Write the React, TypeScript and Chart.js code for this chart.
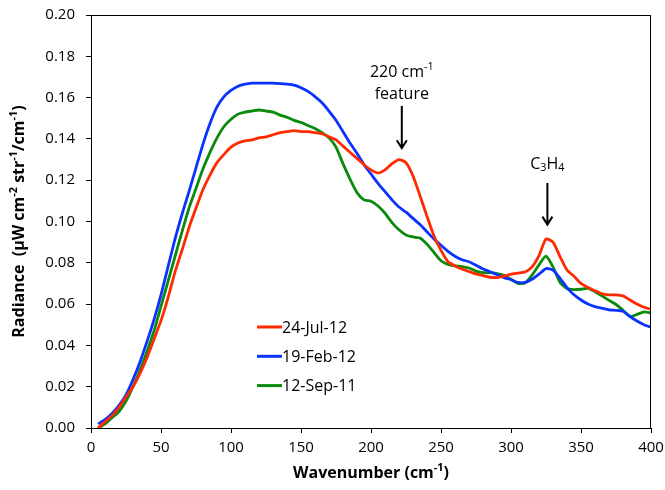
import React, { useEffect, useRef } from "react";
import { Chart, registerables } from "chart.js";

Chart.register(...registerables);

const wavenumbers = [
  5, 10, 15, 20, 25, 30, 35, 40, 45, 50, 55, 60, 65, 70, 75, 80, 85, 90, 95, 100,
  105, 110, 115, 120, 125, 130, 135, 140, 145, 150, 155, 160, 165, 170, 175, 180, 185, 190, 195, 200,
  205, 210, 215, 220, 225, 230, 235, 240, 245, 250, 255, 260, 265, 270, 275, 280, 285, 290, 295, 300,
  305, 310, 315, 320, 325, 330, 335, 340, 345, 350, 355, 360, 365, 370, 375, 380, 385, 390, 395, 400,
];

const jul12 = [
  0.0, 0.003, 0.006, 0.01, 0.015, 0.02, 0.0265, 0.034, 0.043, 0.052, 0.063, 0.0755, 0.086, 0.097, 0.1065, 0.1155, 0.1225, 0.1285, 0.1325, 0.136,
  0.138, 0.139, 0.1395, 0.1405, 0.141, 0.142, 0.143, 0.1435, 0.144, 0.1435, 0.1435, 0.143, 0.1425, 0.141, 0.1395, 0.1365, 0.1335, 0.1305, 0.1275, 0.125,
  0.1235, 0.125, 0.128, 0.13, 0.1285, 0.122, 0.1125, 0.1025, 0.093, 0.086, 0.0805, 0.0785, 0.077, 0.0758, 0.0746, 0.0738, 0.073, 0.0728, 0.0735, 0.0745,
  0.075, 0.0755, 0.078, 0.0835, 0.0915, 0.09, 0.083, 0.0765, 0.0735, 0.07, 0.068, 0.0665, 0.065, 0.0645, 0.0645, 0.064, 0.062, 0.06, 0.0585, 0.0575,
];

const feb12 = [
  0.002, 0.004, 0.007, 0.011, 0.016, 0.0235, 0.032, 0.0418, 0.0525, 0.0645, 0.078, 0.0915, 0.1035, 0.1145, 0.126, 0.1375, 0.1475, 0.1555, 0.1605, 0.1635,
  0.1655, 0.1665, 0.167, 0.167, 0.167, 0.167, 0.1668, 0.1665, 0.166, 0.1648, 0.163, 0.1605, 0.1575, 0.1535, 0.149, 0.1435, 0.138, 0.133, 0.1275, 0.123,
  0.1185, 0.1145, 0.1105, 0.107, 0.1045, 0.1015, 0.0985, 0.095, 0.0915, 0.0885, 0.0855, 0.0832, 0.0815, 0.0805, 0.0788, 0.077, 0.0757, 0.0742, 0.0728, 0.0718,
  0.0705, 0.0705, 0.072, 0.0745, 0.0772, 0.0765, 0.0725, 0.068, 0.0645, 0.062, 0.06, 0.0588, 0.058, 0.0572, 0.057, 0.0565, 0.054, 0.0518, 0.05, 0.0488,
];

const sep11 = [
  0.0, 0.002, 0.005, 0.008, 0.013, 0.02, 0.028, 0.037, 0.047, 0.059, 0.071, 0.083, 0.095, 0.1065, 0.116, 0.1255, 0.1335, 0.1405, 0.146, 0.1495,
  0.152, 0.153, 0.1535, 0.154, 0.1535, 0.153, 0.1515, 0.1505, 0.149, 0.148, 0.1465, 0.145, 0.143, 0.1405, 0.136, 0.128, 0.1205, 0.114, 0.1105, 0.1098,
  0.1075, 0.104, 0.0995, 0.096, 0.0935, 0.0925, 0.092, 0.089, 0.085, 0.081, 0.0792, 0.0785, 0.0782, 0.0775, 0.076, 0.0752, 0.0752, 0.0748, 0.074, 0.072,
  0.07, 0.0702, 0.074, 0.079, 0.0832, 0.078, 0.0705, 0.0675, 0.067, 0.0672, 0.0676, 0.066, 0.064, 0.0618, 0.0598, 0.057, 0.054, 0.055, 0.0562, 0.0558,
];

const seriesLabels = ["24-Jul-12", "19-Feb-12", "12-Sep-11"];
const seriesColors = ["#FF2A00", "#0A32FF", "#0A8A0A"];

const FONT = "'Open Sans', sans-serif";

type Seg = { t: string; sup?: boolean; sub?: boolean };

function measureRich(ctx: CanvasRenderingContext2D, segs: Seg[], size: number, weight: string) {
  let w = 0;
  for (const s of segs) {
    const sz = s.sup || s.sub ? size * 0.68 : size;
    ctx.font = `${weight} ${sz}px ${FONT}`;
    w += ctx.measureText(s.t).width;
  }
  return w;
}

function drawRich(ctx: CanvasRenderingContext2D, segs: Seg[], cx: number, cy: number, size: number, weight: string) {
  const w = measureRich(ctx, segs, size, weight);
  let x = cx - w / 2;
  ctx.textBaseline = "middle";
  ctx.textAlign = "left";
  for (const s of segs) {
    const sz = s.sup || s.sub ? size * 0.68 : size;
    ctx.font = `${weight} ${sz}px ${FONT}`;
    let dy = 0;
    if (s.sup) dy = -size * 0.33;
    if (s.sub) dy = size * 0.22;
    ctx.fillText(s.t, x, cy + dy);
    x += ctx.measureText(s.t).width;
  }
}

function arrow(ctx: CanvasRenderingContext2D, x: number, y1: number, y2: number) {
  ctx.beginPath();
  ctx.moveTo(x, y1);
  ctx.lineTo(x, y2);
  ctx.moveTo(x - 5, y2 - 8);
  ctx.lineTo(x, y2);
  ctx.lineTo(x + 5, y2 - 8);
  ctx.stroke();
}

const decor = {
  id: "decor",
  afterDraw(chart: any) {
    const { ctx, chartArea: a, scales } = chart;
    const xs = scales.x;
    const ys = scales.y;
    ctx.save();
    ctx.strokeStyle = "#000";
    ctx.lineWidth = 1;
    ctx.strokeRect(Math.round(a.left) + 0.5, Math.round(a.top) + 0.5, Math.round(a.right - a.left) - 1, Math.round(a.bottom - a.top));

    ctx.fillStyle = "#000";
    drawRich(ctx, [{ t: "Wavenumber (cm" }, { t: "-1", sup: true }, { t: ")" }], (a.left + a.right) / 2, 473, 16, "bold");
    ctx.save();
    ctx.translate(19, (a.top + a.bottom) / 2);
    ctx.rotate(-Math.PI / 2);
    drawRich(
      ctx,
      [{ t: "Radiance  (µW cm" }, { t: "-2", sup: true }, { t: " str" }, { t: "-1", sup: true }, { t: "/cm" }, { t: "-1", sup: true }, { t: ")" }],
      0,
      0,
      16,
      "bold"
    );
    ctx.restore();

    const ax1 = xs.getPixelForValue(222);
    drawRich(ctx, [{ t: "220 cm" }, { t: "-1", sup: true }], ax1, 72, 16, "normal");
    drawRich(ctx, [{ t: "feature" }], ax1, 94, 16, "normal");
    ctx.lineWidth = 2;
    arrow(ctx, ax1, 106, ys.getPixelForValue(0.1355));
    const ax2 = xs.getPixelForValue(326);
    drawRich(ctx, [{ t: "C" }, { t: "3", sub: true }, { t: "H" }, { t: "4", sub: true }], ax2, 164, 16, "normal");
    arrow(ctx, ax2, 183, ys.getPixelForValue(0.0985));

    chart.data.datasets.forEach((ds: any, i: number) => {
      const y = a.top + 312 + i * 29.3;
      const x0 = a.left + 166;
      ctx.strokeStyle = ds.borderColor;
      ctx.lineWidth = 3;
      ctx.beginPath();
      ctx.moveTo(x0, y);
      ctx.lineTo(x0 + 25, y);
      ctx.stroke();
      ctx.fillStyle = "#000";
      ctx.font = `16px ${FONT}`;
      ctx.textAlign = "left";
      ctx.textBaseline = "middle";
      ctx.fillText(ds.label, x0 + 25, y + 1);
    });
    ctx.restore();
  },
};

export default function App() {
  const ref = useRef<HTMLCanvasElement | null>(null);
  useEffect(() => {
    document.body.style.margin = "0";
    if (!ref.current) return;
    const series = [jul12, feb12, sep11];
    const chart = new Chart(ref.current, {
      type: "line",
      data: {
        datasets: series.map((vals, i) => ({
          label: seriesLabels[i],
          data: vals.map((v, j) => ({ x: wavenumbers[j], y: v })),
          borderColor: seriesColors[i],
          backgroundColor: seriesColors[i],
          borderWidth: 2.8,
          pointRadius: 0,
          tension: 0.2,
          fill: false,
        })),
      },
      options: {
        animation: false,
        responsive: false,
        devicePixelRatio: 1,
        layout: { padding: { top: 15, right: 14, bottom: 0, left: 0 } },
        plugins: { legend: { display: false }, tooltip: { enabled: false } },
        scales: {
          x: {
            type: "linear",
            min: 0,
            max: 400,
            afterFit: (s: any) => {
              s.height = 62;
              s.paddingLeft = 0;
              s.paddingRight = 0;
            },
            ticks: { stepSize: 50, color: "#000", font: { family: FONT, size: 15 }, padding: 6, maxRotation: 0 },
            grid: { drawOnChartArea: false, drawTicks: true, tickLength: 5, color: "#000" },
            border: { display: true, color: "#000" },
          },
          y: {
            min: 0,
            max: 0.2,
            afterFit: (s: any) => {
              s.width = 91;
              s.paddingTop = 0;
              s.paddingBottom = 0;
            },
            ticks: {
              stepSize: 0.02,
              color: "#000",
              font: { family: FONT, size: 15 },
              padding: 11,
              callback: (v: any) => Number(v).toFixed(2),
            },
            grid: { drawOnChartArea: false, drawTicks: true, tickLength: 5, color: "#000" },
            border: { display: true, color: "#000" },
          },
        },
      },
      plugins: [decor],
    });
    return () => chart.destroy();
  }, []);
  return (
    <div style={{ position: "fixed", left: 0, top: 0, width: 665, height: 490, background: "#fff" }}>
      <canvas ref={ref} width={665} height={490} style={{ width: 665, height: 490 }} />
    </div>
  );
}
